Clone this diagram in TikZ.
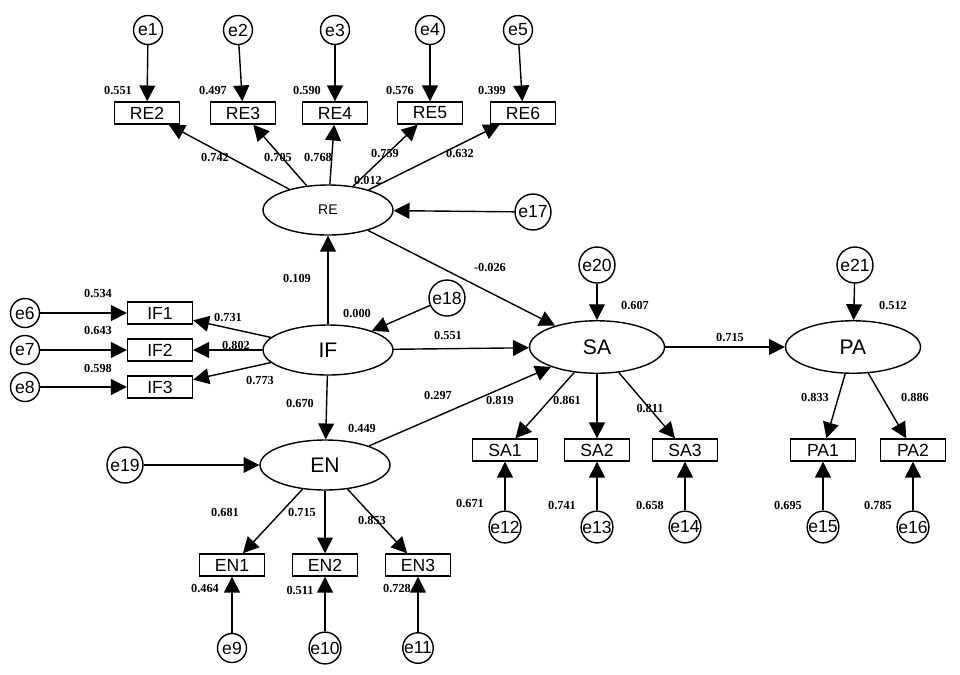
\documentclass[tikz,border=0pt]{standalone}
\usepackage{fontspec}
\setmainfont{Liberation Sans}
\newfontfamily\numf{Liberation Serif}
\usetikzlibrary{arrows.meta,shapes.geometric}
\begin{document}
\begin{tikzpicture}[x=0.02cm,y=-0.02cm,
 obs/.style={draw,thick,minimum width=1.3cm,minimum height=0.44cm,inner sep=1pt,font=\fontsize{10}{10}\selectfont},
 lat/.style={draw,thick,ellipse,minimum width=2.6cm,minimum height=1.0cm,font=\fontsize{12}{12}\selectfont},
 err/.style={draw,thick,circle,minimum size=0.58cm,inner sep=0pt,font=\fontsize{10}{10}\selectfont},
 ar/.style={thick,-{Triangle[length=9pt,width=9pt]}},
 num/.style={font=\numf\bfseries\fontsize{7}{7}\selectfont}]
\useasboundingbox (0,0) rectangle (960,674);
% latent
\node[lat] (RE) at (328,210) {\fontsize{8}{8}\selectfont RE};
\node[lat] (IF) at (328,350) {IF};
\node[lat] (EN) at (325,465) {EN};
\node[lat,minimum width=2.7cm,minimum height=1.05cm] (SA) at (597,347) {SA};
\node[lat,minimum width=2.7cm,minimum height=1.05cm] (PA) at (853,347) {PA};
% observed
\foreach \n/\x in {RE2/147,RE3/243,RE4/335,RE5/430,RE6/523}{\node[obs] (\n) at (\x,113) {\n};}
\foreach \n/\y in {IF1/313,IF2/350,IF3/387}{\node[obs] (\n) at (160,\y) {\n};}
\foreach \n/\x in {SA1/505,SA2/597,SA3/685,PA1/823,PA2/913}{\node[obs] (\n) at (\x,450) {\n};}
\foreach \n/\x in {EN1/232,EN2/325,EN3/418}{\node[obs] (\n) at (\x,565) {\n};}
% errors
\foreach \n/\x/\b in {e1/148/RE2,e2/238/RE3,e3/335/RE4,e4/430/RE5,e5/518/RE6}{\node[err] (\n) at (\x,30) {\n}; \draw[ar] (\n) -- (\b);}
\foreach \n/\y/\b in {e6/313/IF1,e7/350/IF2,e8/387/IF3}{\node[err] (\n) at (25,\y) {\n}; \draw[ar] (\n) -- (\b);}
\foreach \n/\x/\b in {e12/505/SA1,e13/597/SA2,e14/685/SA3,e15/823/PA1,e16/913/PA2}{\node[err] (\n) at (\x,527) {\n}; \draw[ar] (\n) -- (\b);}
\foreach \n/\x/\b in {e9/232/EN1,e10/325/EN2,e11/418/EN3}{\node[err] (\n) at (\x,648) {\n}; \draw[ar] (\n) -- (\b);}
\node[err,minimum size=0.72cm] (e17) at (533,212) {e17};
\node[err,minimum size=0.72cm] (e18) at (447,298) {e18};
\node[err,minimum size=0.72cm] (e19) at (125,465) {e19};
\node[err,minimum size=0.72cm] (e20) at (597,265) {e20};
\node[err,minimum size=0.72cm] (e21) at (855,265) {e21};
\draw[ar] (e17) -- (RE); \draw[ar] (e18) -- (IF); \draw[ar] (e19) -- (EN);
\draw[ar] (e20) -- (SA); \draw[ar] (e21) -- (PA);
% loadings
\foreach \b in {RE2,RE3,RE4,RE5,RE6}{\draw[ar] (RE) -- (\b);}
\foreach \b in {IF1,IF2,IF3}{\draw[ar] (IF) -- (\b);}
\foreach \b in {SA1,SA2,SA3}{\draw[ar] (SA) -- (\b);}
\foreach \b in {PA1,PA2}{\draw[ar] (PA) -- (\b);}
\foreach \b in {EN1,EN2,EN3}{\draw[ar] (EN) -- (\b);}
% structural
\draw[ar] (IF) -- (RE); \draw[ar] (IF) -- (EN); \draw[ar] (IF) -- (SA);
\draw[ar] (RE) -- (SA); \draw[ar] (EN) -- (SA); \draw[ar] (SA) -- (PA);
% labels
\foreach \t/\x/\y in {0.551/118/90,0.497/213/90,0.590/307/90,0.576/400/90,0.399/492/90,
0.742/215/157,0.705/278/157,0.768/318/157,0.759/385/153,0.632/460/153,0.012/368/180,
-0.026/490/267,0.109/297/278,0.000/357/313,0.551/448/335,0.607/635/305,0.715/730/337,0.512/893/305,
0.534/98/293,0.643/98/330,0.598/98/368,0.731/228/317,0.802/236/345,0.773/260/380,
0.670/300/403,0.449/362/428,0.297/438/395,0.819/500/400,0.861/567/400,0.811/650/408,
0.833/815/397,0.886/915/397,0.671/470/503,0.741/562/505,0.658/650/505,0.695/788/505,0.785/878/505,
0.681/225/512,0.715/302/512,0.853/372/520,0.464/205/588,0.511/300/590,0.728/397/588}
{\node[num] at (\x,\y) {\t};}
\end{tikzpicture}
\end{document}
